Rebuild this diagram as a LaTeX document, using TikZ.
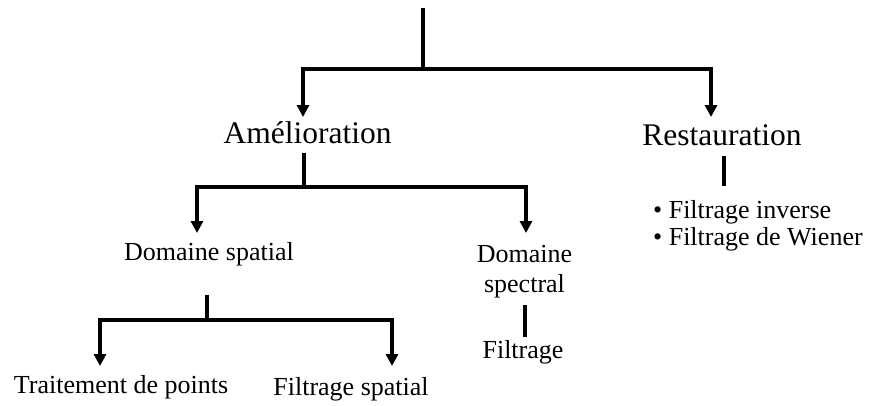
\documentclass[tikz,border=0pt]{standalone}
\usepackage{fontspec}
\setmainfont{Liberation Serif}
\usetikzlibrary{arrows.meta}

\begin{document}
\begin{tikzpicture}[x=1pt,y=-1pt,
  wire/.style={line width=4pt,line join=miter,black},
  arrowwire/.style={wire,-{Triangle[width=12pt,length=12pt]}},
  bigtxt/.style={inner sep=0pt,anchor=base,font=\fontsize{31.5}{36}\selectfont},
  smalltxt/.style={inner sep=0pt,anchor=base,font=\fontsize{26}{30}\selectfont}]

\useasboundingbox (0,0) rectangle (874,405);

% labels (multi-line nodes are anchored on their last baseline)
\node[bigtxt]   (amel)  at (307.5,143) {Amélioration};
\node[bigtxt]   (rest)  at (722,145)   {Restauration};
\node[smalltxt] (spat)  at (209,260)   {Domaine spatial};
\node[smalltxt,align=center] (spec) at (524.5,292) {Domaine\\spectral};
\node[smalltxt] (filt)  at (523,358)   {Filtrage};
\node[smalltxt] (trait) at (121,393)   {Traitement de points};
\node[smalltxt] (fspat) at (351,395)   {Filtrage spatial};
\node[smalltxt,anchor=base west,align=left,font=\fontsize{26}{27}\selectfont]
  (meth) at (653,245) {• Filtrage inverse\\• Filtrage de Wiener};

% junction and end points of the connectors
\coordinate (root)   at (423,8);
\coordinate (j1)     at (423,69);
\coordinate (amelIn) at (303,117);
\coordinate (restIn) at (711,117);
\coordinate (amelOut) at (304,153);
\coordinate (j2)     at (304,187);
\coordinate (spatIn) at (197,233);
\coordinate (specIn) at (526,233);
\coordinate (restOut) at (724,156);
\coordinate (methIn)  at (724,186);
\coordinate (spatOut) at (207,295);
\coordinate (j3)     at (207,320);
\coordinate (traitIn) at (100,366);
\coordinate (fspatIn) at (392,366);
\coordinate (specOut) at (525,305);
\coordinate (filtIn)  at (525,337);

% level 1
\draw[wire] (root) -- (j1);
\draw[arrowwire] (j1) -| (amelIn);
\draw[arrowwire] (j1) -| (restIn);

% level 2
\draw[wire] (amelOut) -- (j2);
\draw[arrowwire] (j2) -| (spatIn);
\draw[arrowwire] (j2) -| (specIn);
\draw[wire] (restOut) -- (methIn);

% level 3
\draw[wire] (spatOut) -- (j3);
\draw[arrowwire] (j3) -| (traitIn);
\draw[arrowwire] (j3) -| (fspatIn);
\draw[wire] (specOut) -- (filtIn);
\end{tikzpicture}
\end{document}
